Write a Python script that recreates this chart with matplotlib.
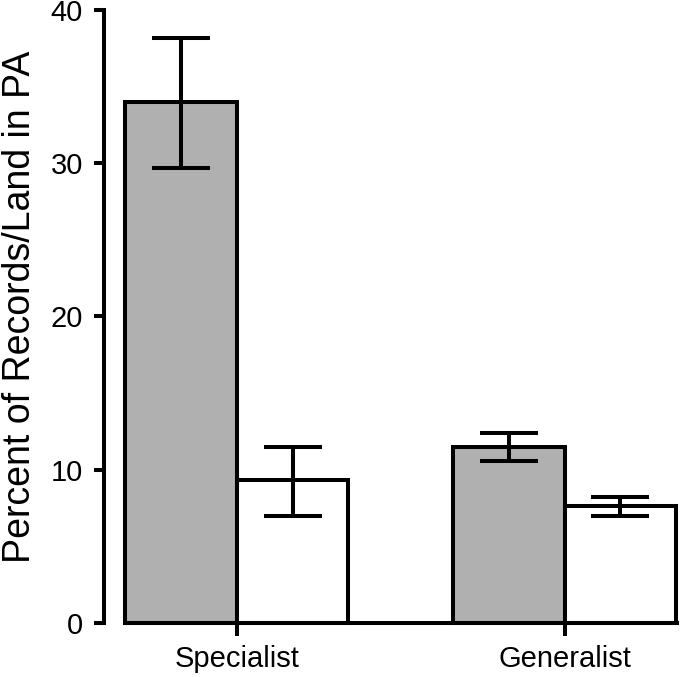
import matplotlib.pyplot as plt
import numpy as np

# data ========================================================================

groups = ["Specialist", "Generalist"]
records = [34.0, 11.5]          # gray bars
records_lo = [29.7, 10.55]
records_hi = [38.2, 12.4]
land = [9.35, 7.62]             # white bars
land_lo = [7.0, 7.0]
land_hi = [11.5, 8.22]

# plot ========================================================================

plt.rcParams["font.family"] = ["Liberation Sans", "DejaVu Sans"]

fig = plt.figure(figsize=(6.8, 6.77), dpi=100)
ax = fig.add_axes([0.184, 0.080, 0.812, 0.905])

x = np.arange(len(groups))
w = 0.34
lw = 2.9

err_kw = dict(ecolor="black", elinewidth=lw, capsize=21, capthick=lw)

ax.bar(x - w, records, width=w, align="edge", color="#b0b0b0",
       edgecolor="black", linewidth=lw, zorder=2, clip_on=False)
ax.bar(x, land, width=w, align="edge", color="white",
       edgecolor="black", linewidth=lw, zorder=2, clip_on=False)

ax.errorbar(x - w / 2, records,
            yerr=[np.subtract(records, records_lo), np.subtract(records_hi, records)],
            fmt="none", zorder=3, **err_kw)
ax.errorbar(x + w / 2, land,
            yerr=[np.subtract(land, land_lo), np.subtract(land_hi, land)],
            fmt="none", zorder=3, **err_kw)

ax.set_xlim(-w - 0.001, 1 + w + 0.004)
ax.set_ylim(0, 40)
ax.set_yticks([0, 10, 20, 30, 40])
ax.set_xticks(x)
ax.set_xticklabels(groups)
ax.set_ylabel("Percent of Records/Land in PA", fontsize=27)
ax.yaxis.set_label_coords(-0.158, 0.515)

for side in ["top", "right"]:
    ax.spines[side].set_visible(False)
ax.spines["left"].set_position(("outward", 15))
for side in ["left", "bottom"]:
    ax.spines[side].set_linewidth(lw)
ax.spines["bottom"].set_zorder(4)

ax.tick_params(axis="y", direction="out", length=7.5, width=lw,
               labelsize=21, pad=8)
ax.tick_params(axis="x", direction="out", length=9, width=lw,
               labelsize=21, pad=7)

plt.savefig("out.png", dpi=100)
